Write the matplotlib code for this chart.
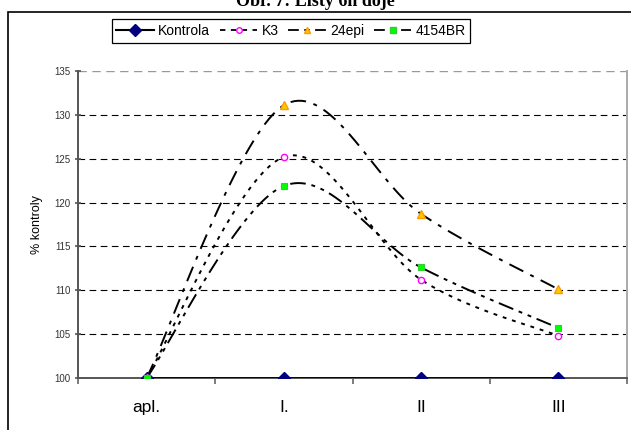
import numpy as np
import matplotlib.pyplot as plt
from matplotlib.patches import Rectangle
from matplotlib.lines import Line2D

# data
kategorie = ['apl.', 'I.', 'II', 'III']
kontrola = [100, 100, 100, 100]
k3 = [100, 125.2, 111.2, 104.8]
epi24 = [100, 131.1, 118.7, 110.1]
br4154 = [100, 121.9, 112.6, 105.7]


# hladka krivka jako v Excelu (Bezier s ridicimi body na 1/6)
def hladka(y, n=40):
    y = np.asarray(y, float)
    x = np.arange(len(y), dtype=float)
    xs, ys = [], []
    for i in range(len(y) - 1):
        i0 = max(i - 1, 0)
        i3 = min(i + 2, len(y) - 1)
        p0 = np.array([x[i], y[i]])
        p3 = np.array([x[i + 1], y[i + 1]])
        p1 = p0 + (np.array([x[i + 1], y[i + 1]]) - np.array([x[i0], y[i0]])) / 6
        p2 = p3 - (np.array([x[i3], y[i3]]) - np.array([x[i], y[i]])) / 6
        t = np.linspace(0, 1, n)[:, None]
        b = (1 - t) ** 3 * p0 + 3 * (1 - t) ** 2 * t * p1 + 3 * (1 - t) * t ** 2 * p2 + t ** 3 * p3
        xs.append(b[:, 0])
        ys.append(b[:, 1])
    return np.concatenate(xs), np.concatenate(ys)


plt.rcParams['font.family'] = ['Liberation Sans', 'DejaVu Sans']

fig = plt.figure(figsize=(6.31, 4.30), dpi=100)
ax = fig.add_axes([78 / 631, 1 - 378 / 430, (627 - 78) / 631, (378 - 71) / 430])

# vnejsi ramecek a useknuty nadpis
fig.patches.append(Rectangle((8 / 631, -0.01), 1, 1 - 12 / 430 + 0.01, transform=fig.transFigure,
                             fill=False, edgecolor='black', linewidth=1.2))
fig.text(0.5, 1 - 6 / 430, 'Obr. 7: Listy 6h doje', ha='center', va='baseline',
         family='Liberation Serif', fontweight='bold', fontsize=13)

x = np.arange(len(kategorie))

for y in range(105, 135, 5):
    ax.axhline(y, color='black', linestyle=(0, (6, 4)), linewidth=0.8, zorder=1)
ax.axhline(135, color='#999999', linestyle=(0, (6, 4)), linewidth=1.0, zorder=1)

sx, sy = hladka(k3)
ax.plot(sx, sy, color='black', linestyle=(0, (2, 3)), linewidth=1.4, zorder=3)
ax.plot(x, k3, linestyle='none', marker='o', markersize=4.5, markerfacecolor='white',
        markeredgecolor='#FF00FF', markeredgewidth=1, zorder=5)

sx, sy = hladka(epi24)
ax.plot(sx, sy, color='black', linestyle=(0, (8, 4, 2, 4)), linewidth=1.4, zorder=3)
ax.plot(x, epi24, linestyle='none', marker='^', markersize=5.5, markerfacecolor='#FFCC00',
        markeredgecolor='#FF9900', markeredgewidth=1, zorder=5)

sx, sy = hladka(br4154)
ax.plot(sx, sy, color='black', linestyle=(0, (8, 3, 2, 3, 2, 3)), linewidth=1.4, zorder=3)
ax.plot(x, br4154, linestyle='none', marker='s', markersize=4.5, markerfacecolor='#00FF00',
        markeredgecolor='#33CC33', markeredgewidth=0.8, zorder=5)

ax.plot(x, kontrola, color='black', linewidth=2, marker='D', markersize=6,
        markerfacecolor='#000080', markeredgecolor='#000080', zorder=4)

# legenda
h = [Line2D([], [], color='black', linewidth=1.5, marker='D', markersize=6,
            markerfacecolor='#000080', markeredgecolor='#000080'),
     Line2D([], [], color='black', linestyle=(0, (3, 3)), linewidth=1.3, marker='o', markersize=4,
            markerfacecolor='white', markeredgecolor='#FF00FF'),
     Line2D([], [], color='black', linestyle=(0, (6, 3, 3, 3)), linewidth=1.3, marker='^', markersize=5,
            markerfacecolor='#FFCC00', markeredgecolor='#FF9900'),
     Line2D([], [], color='black', linestyle=(0, (6, 3, 3, 3)), linewidth=1.3, marker='s', markersize=4,
            markerfacecolor='#00FF00', markeredgecolor='#33CC33')]
leg = fig.legend(h, ['Kontrola', 'K3', '24epi', '4154BR'], loc='center',
                 bbox_to_anchor=(291 / 631, 1 - 31 / 430), ncol=4, fontsize=10,
                 frameon=True, fancybox=False, framealpha=1, edgecolor='black',
                 handlelength=2.7, handletextpad=0.3, columnspacing=0.7, borderpad=0.35)
leg.get_frame().set_linewidth(0.9)

ax.set_xlim(-0.5, 3.5)
ax.set_ylim(100, 135)
ax.set_yticks(range(100, 136, 5))
ax.set_xticks(x)
ax.set_xticklabels(kategorie, fontsize=12.5)
ax.set_xticks(np.arange(-0.5, 3.6, 1), minor=True)
ax.tick_params(axis='x', which='major', length=0, pad=16)
ax.tick_params(axis='x', which='minor', length=4, direction='out', color='#666666', width=1.2)
ax.tick_params(axis='y', labelsize=7, labelcolor='#333333', length=4, direction='inout',
               color='#555555', width=1.2)
ax.set_ylabel('% kontroly', fontsize=9, labelpad=8)

for s in ['left', 'bottom']:
    ax.spines[s].set_color('#555555')
    ax.spines[s].set_linewidth(1.4)
ax.spines['top'].set_visible(False)
ax.spines['right'].set_color('#AAAAAA')
ax.spines['right'].set_linewidth(1.4)

fig.savefig('out.png', dpi=100)
